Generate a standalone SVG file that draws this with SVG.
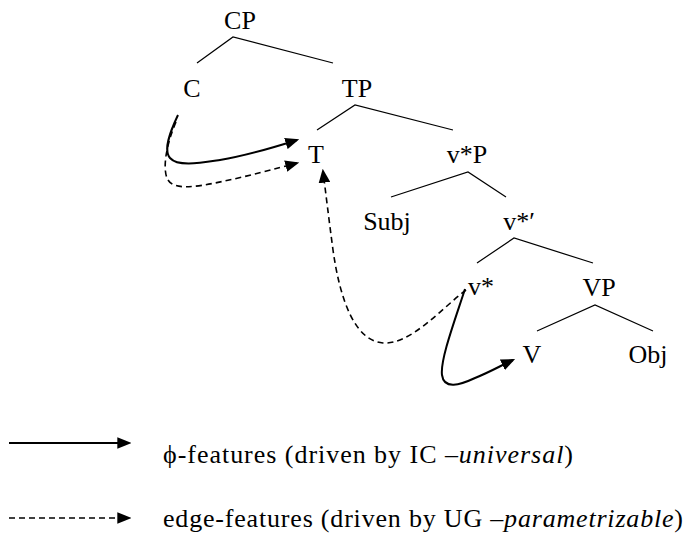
<svg xmlns="http://www.w3.org/2000/svg" width="686" height="537" viewBox="0 0 686 537">
  <style>
    .lbl { font-family: "Liberation Serif", "Times New Roman", serif; font-size: 26px; fill: #000; text-anchor: middle; }
    .leg { font-family: "Liberation Serif", "Times New Roman", serif; font-size: 26px; fill: #000; }
    .branch { stroke: #000; stroke-width: 1.2; fill: none; }
    .solid { stroke: #000; stroke-width: 2; fill: none; marker-end: url(#head); }
    .dashed { stroke: #000; stroke-width: 1.6; fill: none; stroke-dasharray: 6 4; marker-end: url(#head); }
  </style>
  <defs>
    <marker id="head" markerUnits="userSpaceOnUse" markerWidth="14" markerHeight="12" viewBox="0 0 12 10" refX="10" refY="5" orient="auto">
      <path d="M0,0 L12,5 L0,10 z" fill="#000"/>
    </marker>
  </defs>
  <rect width="686" height="537" fill="#fff"/>

  <!-- tree branches -->
  <g id="branches">
    <path class="branch" d="M197,63 L233,37 L333,63"/>
    <path class="branch" d="M317,130 L355,105 L453,130"/>
    <path class="branch" d="M391,197 L468,172 L506,197"/>
    <path class="branch" d="M477,263 L514,238 L593,263"/>
    <path class="branch" d="M537,331 L595,305 L653,331"/>
  </g>

  <!-- tree nodes -->
  <g id="CP"><text class="lbl" x="240" y="29">CP</text></g>
  <g id="C"><text class="lbl" x="192" y="97">C</text></g>
  <g id="TP"><text class="lbl" x="357" y="97">TP</text></g>
  <g id="T"><text class="lbl" x="316" y="163">T</text></g>
  <g id="vP"><text class="lbl" x="467" y="163">v*P</text></g>
  <g id="Subj"><text class="lbl" x="387" y="230">Subj</text></g>
  <g id="vbar"><text class="lbl" x="519" y="230">v*′</text></g>
  <g id="v"><text class="lbl" x="481" y="295">v*</text></g>
  <g id="VP"><text class="lbl" x="599" y="296">VP</text></g>
  <g id="V"><text class="lbl" x="532" y="363">V</text></g>
  <g id="Obj"><text class="lbl" x="648" y="363">Obj</text></g>

  <!-- agreement / movement connectors -->
  <g id="connectors">
    <path class="solid" d="M178,115 C170,132 163,150 170,158 C178,167 200,163 220,160 C250,155 275,147 297,140"/>
    <path class="dashed" d="M176,122 C166,145 162,170 168,180 C174,190 195,187 215,183 C245,177 275,169 297,163"/>
    <path class="dashed" d="M466,290 C440,310 410,345 383,343 C355,341 340,300 333,250 C329,220 326,195 323,171"/>
    <path class="solid" d="M465,289 C455,320 440,360 442,375 C444,390 460,385 475,378 C490,372 500,366 513,360"/>
  </g>

  <!-- legend -->
  <g id="legend">
    <path class="solid" d="M9,443 L129,443"/>
    <text class="leg" x="163" y="463" textLength="410" lengthAdjust="spacing">ϕ-features (driven by IC –<tspan font-style="italic">universal</tspan>)</text>
    <path class="dashed" d="M9,518 L129,518"/>
    <text class="leg" x="163" y="527" textLength="520" lengthAdjust="spacing">edge-features (driven by UG –<tspan font-style="italic">parametrizable</tspan>)</text>
  </g>
</svg>
